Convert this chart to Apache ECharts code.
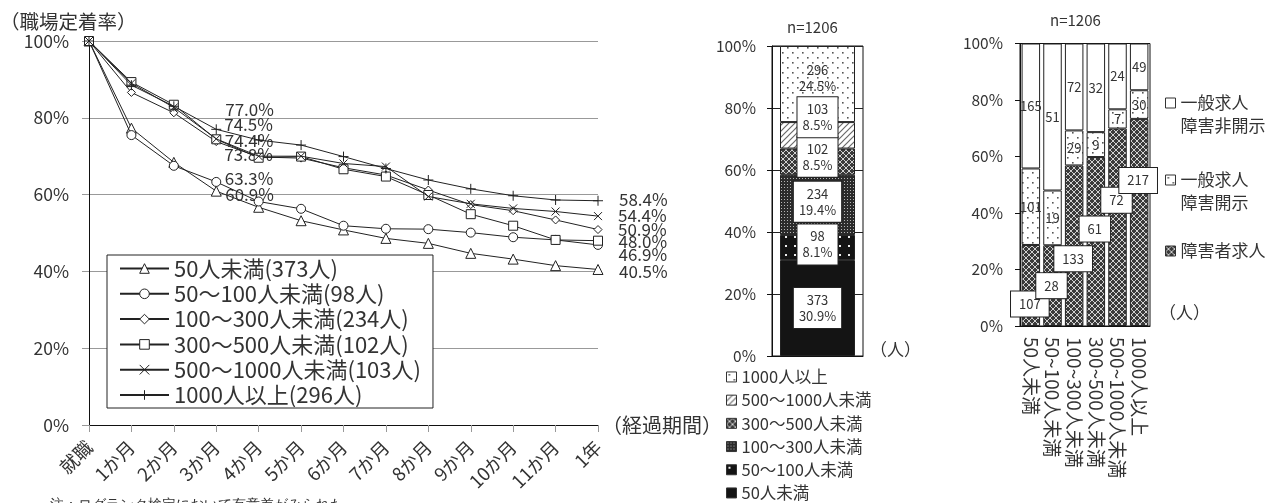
<!DOCTYPE html>
<html><head><meta charset="utf-8">
<script src="https://cdn.jsdelivr.net/npm/echarts@6/dist/echarts.min.js"></script>
<style>html,body{margin:0;padding:0;background:#fff}#c{width:1279px;height:503px}</style>
</head><body><div id="c"></div>
<script>
// ---------------- DATA ----------------
const months = ['就職','1か月','2か月','3か月','4か月','5か月','6か月','7か月','8か月','9か月','10か月','11か月','1年'];
const lineNames = ['50人未満(373人)','50〜100人未満(98人)','100〜300人未満(234人)','300〜500人未満(102人)','500〜1000人未満(103人)','1000人以上(296人)'];
const rateUnder50   = [100, 77.3, 68.4, 60.9, 56.7, 53.2, 50.8, 48.6, 47.3, 44.7, 43.2, 41.5, 40.5];
const rate50to100   = [100, 75.5, 67.5, 63.3, 58.2, 56.3, 51.9, 51.1, 51.0, 50.1, 48.9, 48.2, 46.9];
const rate100to300  = [100, 86.6, 81.3, 73.8, 69.8, 69.5, 67.0, 65.1, 61.2, 57.4, 55.8, 53.4, 50.9];
const rate300to500  = [100, 89.3, 83.4, 74.4, 69.6, 69.9, 66.6, 64.7, 59.9, 54.9, 51.9, 48.2, 48.0];
const rate500to1000 = [100, 89.0, 82.7, 74.5, 70.0, 70.0, 68.1, 67.3, 59.5, 57.6, 56.4, 55.6, 54.4];
const rateOver1000  = [100, 88.5, 83.0, 77.0, 74.2, 72.9, 69.9, 66.8, 63.8, 61.5, 59.7, 58.6, 58.4];

const sizeNames  = ['50人未満','50〜100人未満','100〜300人未満','300〜500人未満','500〜1000人未満','1000人以上'];
const sizeCounts = [373, 98, 234, 102, 103, 296];

const rightCats     = ['50人未満','50~100人未満','100~300人未満','300~500人未満','500~1000人未満','1000人以上'];
const rightSeries   = ['障害者求人','一般求人障害開示','一般求人障害非開示'];
const disabledJob   = [107, 28, 133, 61, 72, 217];
const openGeneral   = [101, 19, 29, 9, 7, 30];
const closedGeneral = [165, 51, 72, 32, 24, 49];

// ---------------- STYLE ----------------
const FONT = '"Noto Sans CJK JP", "Noto Sans", sans-serif';
const TXT = '#333';
function makePattern(size, bg, draw){
  const c = document.createElement('canvas'); c.width = size; c.height = size;
  const g = c.getContext('2d'); g.fillStyle = bg; g.fillRect(0,0,size,size); if (draw) draw(g);
  return {image: c, repeat: 'repeat'};
}
const patSolid = '#141414';
const patDotsBlack = makePattern(9,'#141414',g=>{g.fillStyle='#eeeeee';g.fillRect(2,2,2,2);});
const patFineGrid = makePattern(3,'#2b2b2b',g=>{g.fillStyle='#b5b5b5';g.fillRect(1,1,1,1);});
const patCross = makePattern(6,'#3a3a3a',g=>{g.strokeStyle='#d0d0d0';g.lineWidth=1;g.beginPath();g.moveTo(0,0);g.lineTo(6,6);g.moveTo(6,0);g.lineTo(0,6);g.stroke();});
const patHatch = makePattern(6,'#ffffff',g=>{g.strokeStyle='#6a6a6a';g.lineWidth=1.2;g.beginPath();g.moveTo(-1,7);g.lineTo(7,-1);g.moveTo(-1,1);g.lineTo(1,-1);g.moveTo(5,7);g.lineTo(7,5);g.stroke();});
const patDotsWhite = makePattern(10,'#ffffff',g=>{g.fillStyle='#555';g.fillRect(2,2,1.6,1.6);g.fillRect(7,7,1.6,1.6);});

// ---------------- LEFT: line chart ----------------
const lineValues = [rateUnder50, rate50to100, rate100to300, rate300to500, rate500to1000, rateOver1000];
const lineSymbols = ['triangle','circle','diamond','rect','path://M0,0L10,10M10,0L0,10','path://M5,0L5,10M0,5L10,5'];
const lineSymSize = [10, 9, 8, 9, 8, 10];
const labelDy3  = [3, -3, 13, 1.5, -14, -20];
const labelDy12 = [2, 10, 0, 1, -1, -1];
const lineSeries = lineValues.map((vals, s) => ({
  type: 'line', name: lineNames[s], xAxisIndex: 0, yAxisIndex: 0,
  symbol: lineSymbols[s], symbolSize: lineSymSize[s],
  lineStyle: {color: '#222', width: 1},
  itemStyle: {color: '#fff', borderColor: '#222', borderWidth: 1},
  label: {show: false, position: 'right', distance: 5, fontSize: 17, color: '#333', fontFamily: FONT,
          formatter: p => Number(p.value).toFixed(1) + '%'},
  data: vals.map((v, i) => {
    if (i === 3) return {value: v, label: {show: true, offset: [-1.5, labelDy3[s]]}};
    if (i === 12) return {value: v, label: {show: true, offset: [10.5, labelDy12[s]]}};
    return v;
  }),
  z: 3 + s
}));

// ---------------- MIDDLE: stacked 100% bar ----------------
const sizeTotal = sizeCounts.reduce((a,b)=>a+b,0);
const sizePatterns = [patSolid, patDotsBlack, patFineGrid, patCross, patHatch, patDotsWhite];
const midLabelDy = [0, -3, -3, -5, -18, -6];
const midSeries = sizeNames.map((n, i) => {
  const pct = sizeCounts[i] / sizeTotal * 100;
  const boxed = i < 5;
  return {
    type: 'bar', name: n, xAxisIndex: 1, yAxisIndex: 1, stack: 'mid', barWidth: 75,
    itemStyle: {color: sizePatterns[i], borderColor: '#222', borderWidth: 1},
    label: {
      show: true, position: 'inside', offset: [0, midLabelDy[i]],
      formatter: () => sizeCounts[i] + '\n' + pct.toFixed(1) + '%',
      fontSize: 13, lineHeight: 16, color: '#333', fontFamily: FONT, align: 'center',
      backgroundColor: boxed ? '#fff' : 'transparent',
      borderColor: boxed ? '#222' : 'transparent', borderWidth: boxed ? 1 : 0,
      padding: [4, 5]
    },
    data: [pct]
  };
});

// ---------------- RIGHT: stacked 100% bar by size ----------------
const rightCounts = [disabledJob, openGeneral, closedGeneral];
const rightTotals = rightCats.map((_, i) => disabledJob[i] + openGeneral[i] + closedGeneral[i]);
const rightPatterns = [patCross, patDotsWhite, '#ffffff'];
const rightBoxDy = [18.5, 0, 13, -12.5, -27, -42];
const rightSeriesList = rightSeries.map((n, s) => ({
  type: 'bar', name: n, xAxisIndex: 2, yAxisIndex: 2, stack: 'right', barWidth: 18.5,
  itemStyle: {color: rightPatterns[s], borderColor: '#222', borderWidth: 1},
  label: s === 0 ? {
    show: true, position: 'inside', fontSize: 13, color: '#333', fontFamily: FONT,
    backgroundColor: '#fff', borderColor: '#222', borderWidth: 1, padding: [6, 8],
    formatter: p => rightCounts[s][p.dataIndex]
  } : {
    show: true, position: 'inside', fontSize: 13, color: '#333', fontFamily: FONT,
    formatter: p => rightCounts[s][p.dataIndex]
  },
  data: rightCounts[s].map((c, i) => s === 0
    ? {value: c / rightTotals[i] * 100, label: {offset: [-1, rightBoxDy[i]]}}
    : c / rightTotals[i] * 100)
}));

// legend text: a blank first line so that the icon lines up with the first text line
const rightLegendText = {
  '一般求人障害非開示': ' \n一般求人\n障害非開示',
  '一般求人障害開示': ' \n一般求人\n障害開示',
  '障害者求人': ' \n障害者求人\n '
};

const option = {
  animation: false,
  backgroundColor: '#fff',
  textStyle: {fontFamily: FONT},
  title: [
    {text: '（職場定着率）', left: 0, top: 12, padding: 0, textStyle: {fontSize: 19.5, fontWeight: 'normal', color: TXT, fontFamily: FONT}},
    {text: 'n=1206', left: 787, top: 20, padding: 0, textStyle: {fontSize: 15, fontWeight: 'normal', color: TXT, fontFamily: FONT}},
    {text: 'n=1206', left: 1050, top: 13, padding: 0, textStyle: {fontSize: 15, fontWeight: 'normal', color: TXT, fontFamily: FONT}},
    {text: '注：ログランク検定において有意差がみられた', left: 50, top: 498, padding: 0, textStyle: {fontSize: 13.5, fontWeight: 'normal', color: TXT, fontFamily: 'serif'}}
  ],
  graphic: [
    {type: 'text', left: 870, top: 341, style: {text: '（人）', font: '17px ' + FONT, fill: TXT}},
    {type: 'text', left: 1159, top: 304, style: {text: '（人）', font: '17px ' + FONT, fill: TXT}}
  ],
  legend: [
    {
      data: lineNames, orient: 'vertical', left: 107, top: 255,
      padding: [2.5, 12, 2, 12], itemGap: 3.3, itemWidth: 49, itemHeight: 12,
      borderColor: '#222', borderWidth: 1, backgroundColor: '#fff',
      itemStyle: {borderColor: '#222', borderWidth: 1},
      textStyle: {fontSize: 22, color: TXT, fontFamily: FONT},
      selectedMode: false
    },
    {
      data: sizeNames.slice().reverse(), orient: 'vertical', left: 726, top: 368.7,
      padding: 0, itemGap: 6.7, itemWidth: 10, itemHeight: 10, icon: 'rect',
      itemStyle: {borderColor: '#333', borderWidth: 1},
      textStyle: {fontSize: 16.5, color: TXT, fontFamily: FONT},
      selectedMode: false
    },
    {
      data: [
        {name: '一般求人障害非開示'},
        {name: '一般求人障害開示'},
        {name: '障害者求人', textStyle: {lineHeight: 19}}
      ],
      orient: 'vertical', left: 1165, top: 68.5, padding: 0, itemGap: 8,
      itemWidth: 10, itemHeight: 10, icon: 'rect',
      itemStyle: {borderColor: '#333', borderWidth: 1},
      formatter: n => rightLegendText[n],
      textStyle: {fontSize: 17, lineHeight: 23, color: TXT, fontFamily: FONT},
      selectedMode: false
    }
  ],
  grid: [
    {left: 89, top: 41, width: 509, height: 384, containLabel: false},
    {left: 772, top: 46, width: 91, height: 310, show: true, borderColor: '#111', borderWidth: 1, backgroundColor: 'transparent'},
    {left: 1020, top: 43.5, width: 130, height: 282.5, show: true, borderColor: '#111', borderWidth: 1, backgroundColor: 'transparent'}
  ],
  xAxis: [
    {
      gridIndex: 0, type: 'category', data: months, boundaryGap: false,
      axisLine: {lineStyle: {color: '#111', width: 1}},
      axisTick: {show: true, length: 7, lineStyle: {color: '#999'}},
      axisLabel: {rotate: 45, interval: 0, margin: 19, fontSize: 18.5, color: TXT, fontFamily: FONT},
      name: '（経過期間）', nameLocation: 'end', nameGap: 4,
      nameTextStyle: {fontSize: 20, color: TXT, fontFamily: FONT, verticalAlign: 'middle'}
    },
    {
      gridIndex: 1, type: 'category', data: ['n=1206'],
      axisLine: {lineStyle: {color: '#111'}}, axisTick: {show: false}, axisLabel: {show: false}
    },
    {
      gridIndex: 2, type: 'category', data: rightCats,
      axisLine: {lineStyle: {color: '#111'}}, axisTick: {show: false},
      axisLabel: {rotate: -90, interval: 0, margin: 11, fontSize: 19, color: TXT, fontFamily: FONT}
    }
  ],
  yAxis: [
    {
      gridIndex: 0, type: 'value', min: 0, max: 100, interval: 20,
      axisLine: {show: true, lineStyle: {color: '#111'}},
      axisTick: {show: true, length: 7, lineStyle: {color: '#999'}},
      axisLabel: {formatter: '{value}%', fontSize: 17.5, color: TXT, margin: 20, fontFamily: FONT},
      splitLine: {show: true, lineStyle: {color: '#999', width: 1}}
    },
    {
      gridIndex: 1, type: 'value', min: 0, max: 100, interval: 20,
      axisLine: {show: true, lineStyle: {color: '#111'}},
      axisTick: {show: true, length: 5, lineStyle: {color: '#111'}},
      axisLabel: {formatter: '{value}%', fontSize: 15.5, color: TXT, margin: 16, fontFamily: FONT},
      splitLine: {show: true, lineStyle: {color: '#222', width: 1}}
    },
    {
      gridIndex: 2, type: 'value', min: 0, max: 100, interval: 20,
      axisLine: {show: true, lineStyle: {color: '#111'}},
      axisTick: {show: true, length: 5, lineStyle: {color: '#111'}},
      axisLabel: {formatter: '{value}%', fontSize: 15.5, color: TXT, margin: 17, fontFamily: FONT},
      splitLine: {show: false}
    }
  ],
  series: [...lineSeries, ...midSeries, ...rightSeriesList]
};

const chart = echarts.init(document.getElementById('c'), null, {renderer: 'canvas'});
chart.setOption(option);
</script>
</body></html>
